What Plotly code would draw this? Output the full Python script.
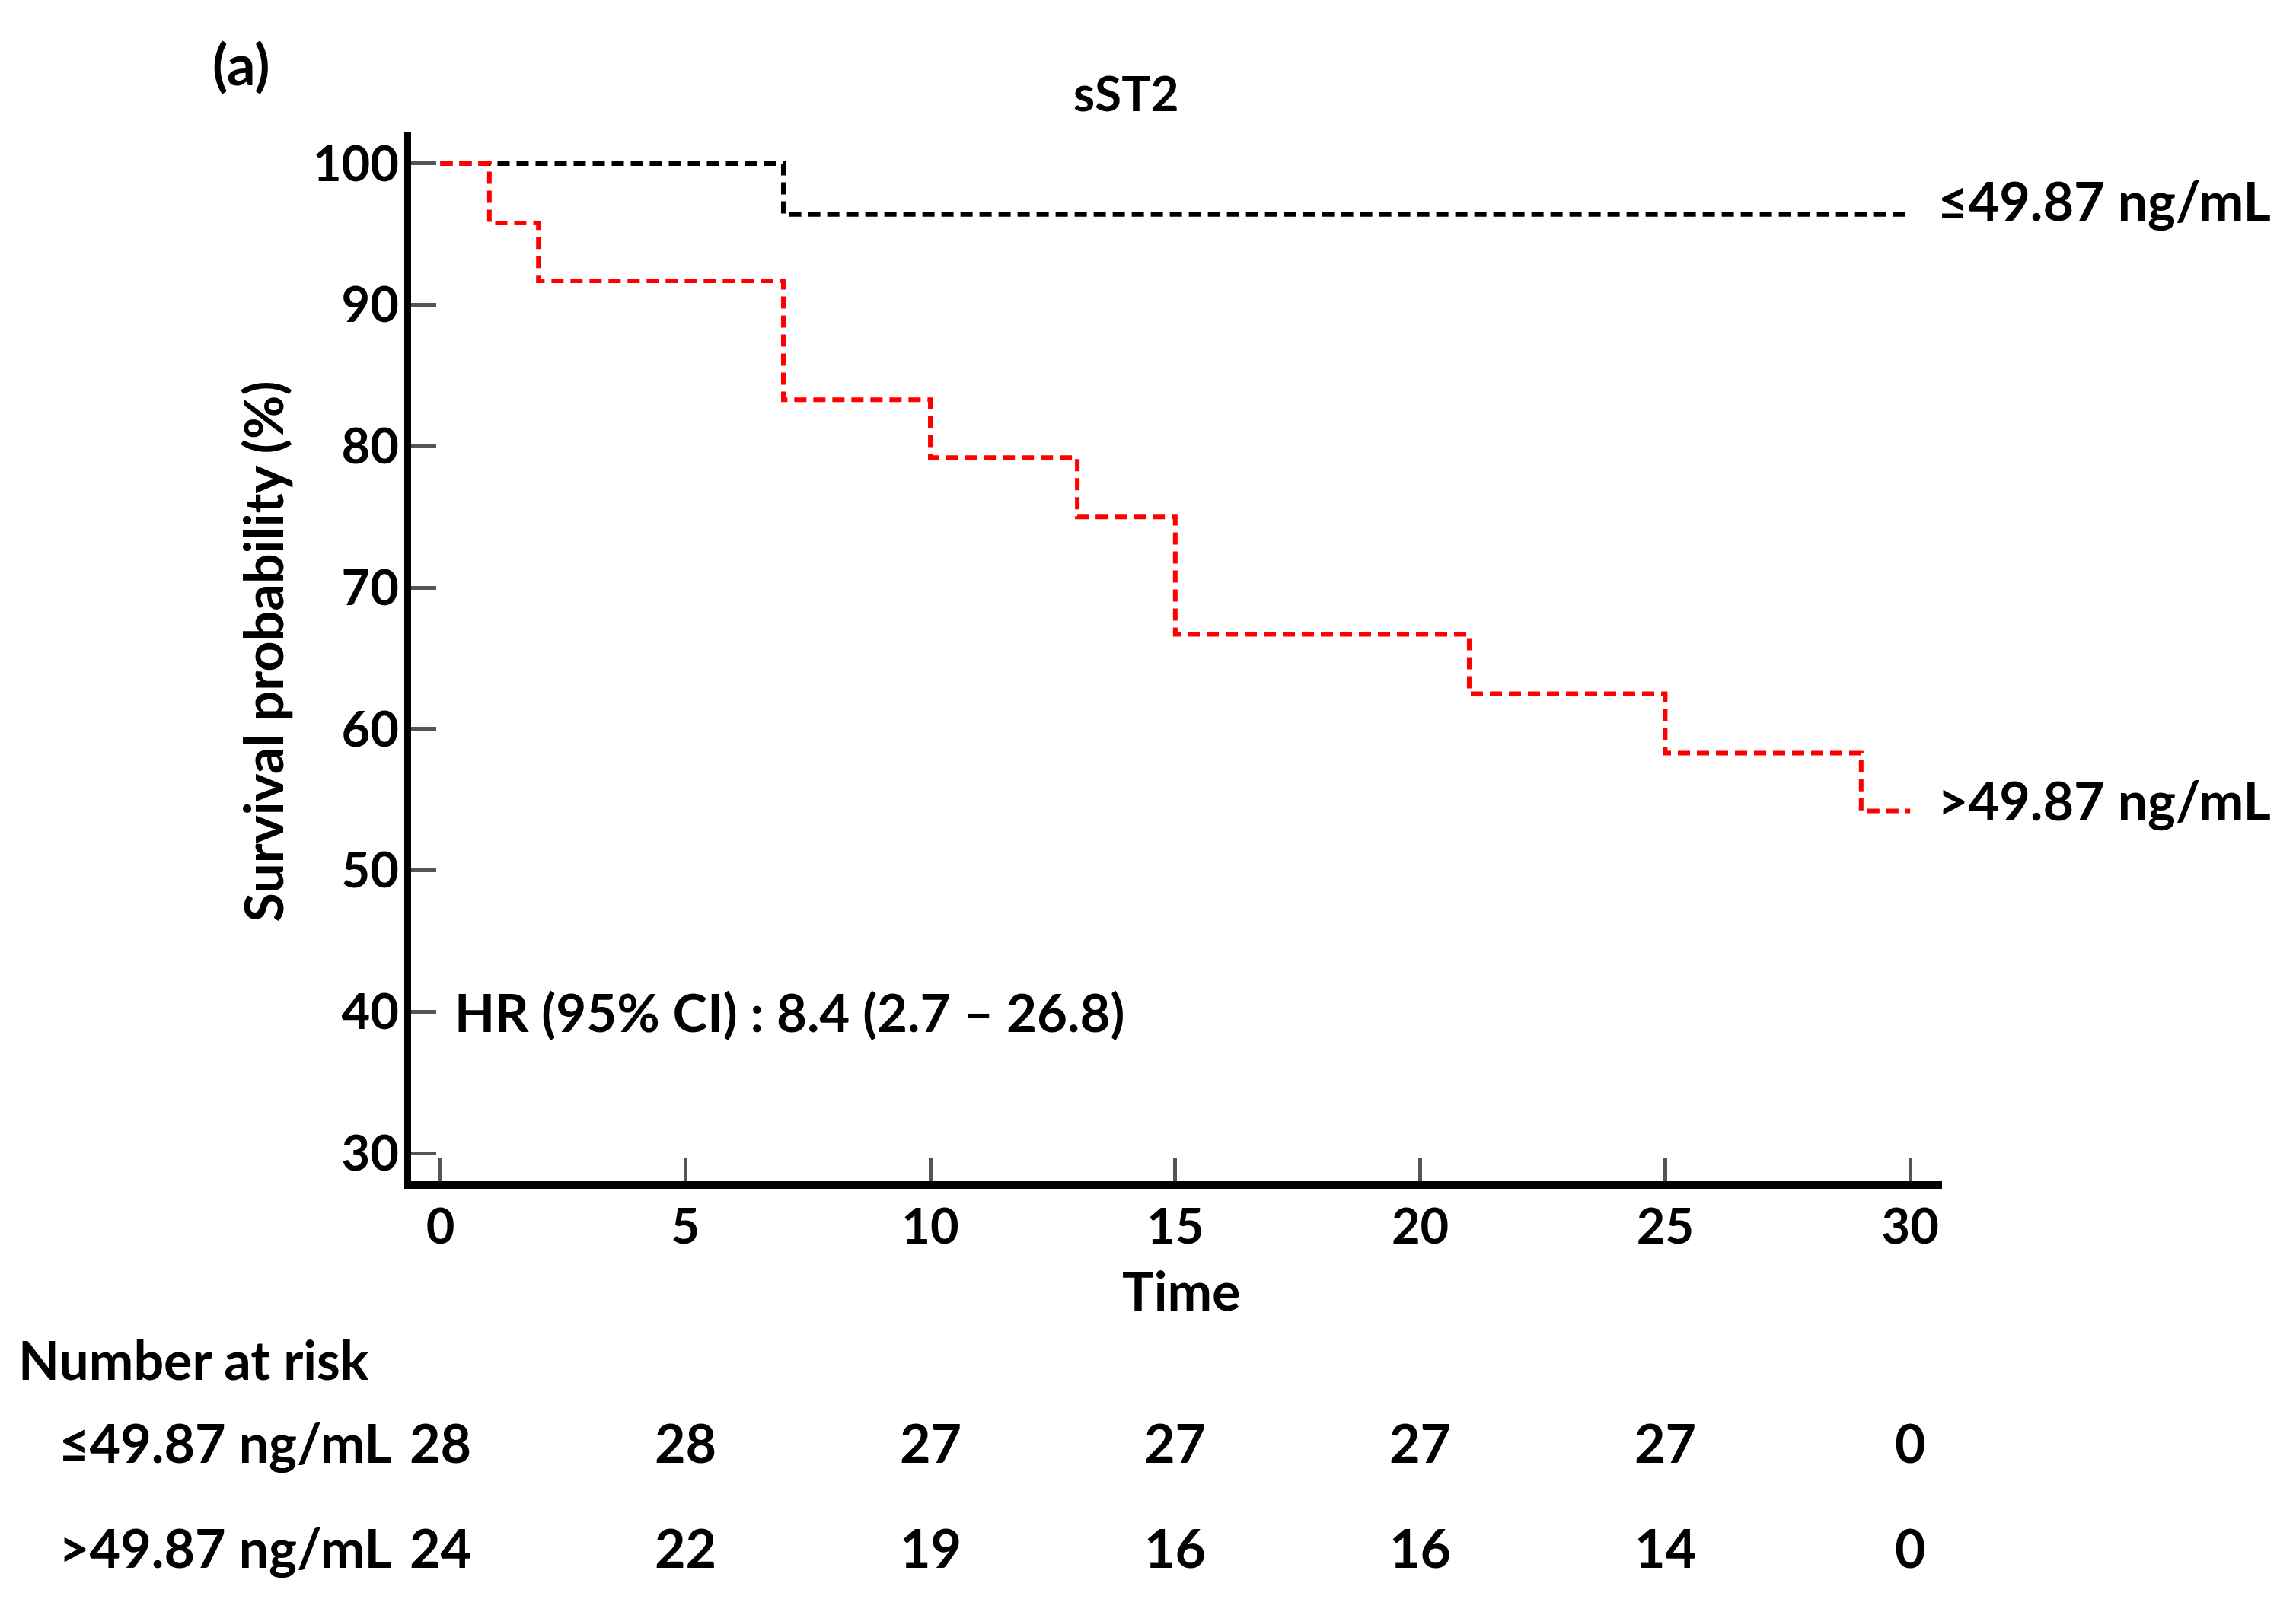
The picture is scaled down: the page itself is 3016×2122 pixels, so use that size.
import plotly.graph_objects as go

# ---- data ----
low_time = [0, 7, 30]
low_surv = [100, 96.4, 96.4]
high_time = [0, 1, 2, 7, 10, 13, 15, 21, 25, 29, 30]
high_surv = [100, 95.8, 91.7, 83.3, 79.2, 75.0, 66.7, 62.5, 58.3, 54.2, 54.2]

group_labels = ["≤49.87 ng/mL", ">49.87 ng/mL"]
risk_times = [0, 5, 10, 15, 20, 25, 30]
risk_low = [28, 28, 27, 27, 27, 27, 0]
risk_high = [24, 22, 19, 16, 16, 14, 0]

x_ticks = [0, 5, 10, 15, 20, 25, 30]
y_ticks = [30, 40, 50, 60, 70, 80, 90, 100]

FONT = "Lato, 'Open Sans', sans-serif"
FS_TICK = 65
FS = 70

fig = go.Figure()
fig.add_trace(go.Scatter(x=low_time, y=low_surv, mode="lines", line_shape="hv",
                         line=dict(color="#000000", width=6, dash="16px,9px"),
                         showlegend=False, hoverinfo="skip"))
fig.add_trace(go.Scatter(x=high_time, y=high_surv, mode="lines", line_shape="hv",
                         line=dict(color="#ff0000", width=6, dash="16px,9px"),
                         showlegend=False, hoverinfo="skip"))

ann = []
# end-of-curve labels
ann.append(dict(x=1.0, xref="paper", y=97.4, yref="y", text=group_labels[0],
                xanchor="left", yanchor="middle", showarrow=False, xshift=-8))
ann.append(dict(x=1.0, xref="paper", y=55.0, yref="y", text=group_labels[1],
                xanchor="left", yanchor="middle", showarrow=False, xshift=-8))
# HR
ann.append(dict(x=0.25, xref="x", y=40.0, yref="y", text="HR (95% CI) : 8.4 (2.7 – 26.8)",
                xanchor="left", yanchor="middle", showarrow=False, font=dict(size=69)))
# title and panel label
ann.append(dict(x=0.467, xref="paper", y=1.037, yref="paper", text="sST2",
                xanchor="center", yanchor="middle", showarrow=False, font=dict(size=64)))
ann.append(dict(x=-0.111, xref="paper", y=1.065, yref="paper", text="(a)",
                xanchor="center", yanchor="middle", showarrow=False, font=dict(size=74)))
# axis titles
ann.append(dict(x=0.503, xref="paper", y=-0.104, yref="paper", text="Time",
                xanchor="center", yanchor="middle", showarrow=False))
ann.append(dict(x=-0.097, xref="paper", y=0.505, yref="paper", text="Survival probability (%)",
                xanchor="center", yanchor="middle", showarrow=False, textangle=-90))
# number at risk
ann.append(dict(x=-0.2574, xref="paper", y=-0.170, yref="paper", text="Number at risk",
                xanchor="left", yanchor="middle", showarrow=False))
row_y = [-0.2485, -0.349]
for lab, ry, vals in zip(group_labels, row_y, [risk_low, risk_high]):
    ann.append(dict(x=-0.0115, xref="paper", y=ry, yref="paper", text=lab,
                    xanchor="right", yanchor="middle", showarrow=False))
    for t, v in zip(risk_times, vals):
        ann.append(dict(x=t, xref="x", y=ry, yref="paper", text=str(v),
                        xanchor="center", yanchor="middle", showarrow=False))

fig.update_layout(
    width=3016, height=2122,
    margin=dict(l=532, r=473, t=165, b=578),
    paper_bgcolor="white", plot_bgcolor="white",
    font=dict(family=FONT, size=FS, color="#000000", weight="bold"),
    annotations=ann,
    xaxis=dict(range=[-0.598, 30.65], tickvals=x_ticks, ticks="inside", ticklen=30,
               tickwidth=5, tickcolor="#555555", showline=True, linecolor="#000000",
               linewidth=10, showgrid=False, zeroline=False, ticklabelstandoff=-6,
               tickfont=dict(family=FONT, size=FS_TICK, weight="bold")),
    yaxis=dict(range=[28.01, 102.26], tickvals=y_ticks, ticks="inside", ticklen=33,
               tickwidth=5, tickcolor="#555555", showline=True, linecolor="#000000",
               linewidth=9, showgrid=False, zeroline=False, ticklabelstandoff=-6,
               tickfont=dict(family=FONT, size=FS_TICK, weight="bold")),
)

fig.write_html("out.html")
